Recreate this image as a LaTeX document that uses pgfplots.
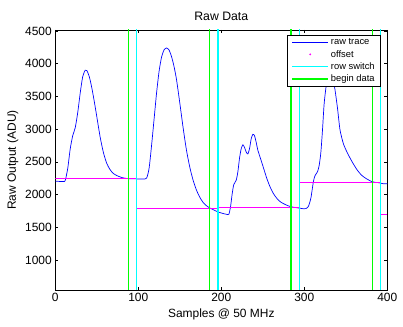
\documentclass[border=0pt]{standalone}
\usepackage{fontspec}
\setmainfont{Liberation Sans}
\usepackage{pgfplots}
\pgfplotsset{compat=1.18}
\definecolor{tblue}{rgb}{0,0,1}
\definecolor{tmag}{rgb}{1,0,1}
\definecolor{tcyan}{rgb}{0,1,1}
\definecolor{tgreen}{rgb}{0,1,0}
\pgfplotsset{
    legend image code/.code={\draw[#1] (0bp,0bp) -- (36bp,0bp);},
}

\begin{document}
\begin{tikzpicture}
\begin{axis}[
    at={(0,0)}, anchor=south west,
    scale only axis,
    width=332bp, height=260bp,
    xmin=0, xmax=400,
    ymin=540, ymax=4515,
    xtick={0,100,...,400},
    ytick={1000,1500,...,4500},
    tick align=inside,
    major tick length=3bp,
    minor tick num=0,
    axis line style={line width=0.6pt},
    every tick/.style={black, line width=0.5pt},
    /pgf/number format/assume math mode=true,
    /pgf/number format/1000 sep={},
    tick label style={font=\fontsize{12}{14}\selectfont},
    label style={font=\fontsize{12}{14}\selectfont},
    title style={font=\fontsize{12.3}{14}\selectfont},
    title={Raw Data},
    xlabel={Samples @ 50 MHz},
    ylabel={Raw Output (ADU)},
    unbounded coords=jump,
    legend style={at={(0.981,0.981)}, anchor=north east,
        font=\fontsize{9.4}{10}\selectfont, draw=black, line width=0.6pt,
        cells={anchor=west}, inner xsep=4bp, inner ysep=1.5bp},
]
% raw trace
\addplot[tblue, line width=0.7pt, smooth, tension=0.4] coordinates {
(0,2205) (5,2200) (10,2200) (12,2215) (15,2400) (18,2700) (21,2900) (24,3020)
(27,3250) (30,3550) (33,3800) (36,3900) (38,3895) (41,3800) (44,3630) (47,3420)
(50,3190) (54,2880) (58,2640) (62,2475) (66,2380) (70,2320) (74,2290) (80,2260)
(86,2245) (92,2240) (100,2238) (106,2238) (110,2250) (113,2400) (116,2750)
(119,3150) (122,3550) (125,3880) (128,4100) (131,4210) (134,4240) (137,4210)
(140,4110) (143,3960) (146,3760) (150,3400) (154,3020) (158,2680) (162,2420)
(166,2220) (170,2070) (174,1960) (178,1880) (182,1830) (186,1795) (190,1770)
(194,1745) (198,1725) (202,1710) (206,1698) (209,1697) (211,1800) (213,2000)
(215,2150) (218,2220) (220,2350) (222,2560) (224,2700) (226,2760) (228,2720)
(230,2650) (232,2620) (234,2700) (236,2850) (238,2920) (240,2900) (242,2800)
(244,2680) (247,2560) (251,2400) (255,2240) (259,2110) (263,2010) (267,1940)
(271,1890) (275,1860) (280,1830) (285,1810) (290,1800) (295,1790) (299,1782)
(302,1785) (305,1820) (308,1950) (311,2200) (313,2290) (316,2350) (318,2450)
(320,2650) (322,3000) (324,3400) (327,3720) (330,3880) (332,3900) (334,3820)
(337,3600) (340,3320) (343,2990) (347,2780) (351,2660) (355,2560) (359,2470)
(364,2370) (369,2295) (375,2240) (381,2200) (386,2185) (390,2180) (395,2165)
(400,2165)
};
\addlegendentry{raw trace}
\addlegendimage{legend image code/.code={\fill[tmag] (18bp,0bp) circle (0.6bp);}}
\addlegendentry{offset}
% offset
\addplot[tmag, line width=0.9pt, forget plot] coordinates {
(0,2245) (98,2245) (98,nan)
(98,1783) (196,1783) (196,nan)
(196,1800) (294,1800) (294,nan)
(294,2183) (392,2183) (392,nan)
(392,1690) (400,1690)
};
% row switch
\addplot[tcyan, line width=1.5bp] coordinates {
(98,0) (98,5000) (98,nan)
(196,0) (196,5000) (196,nan)
(294,0) (294,5000) (294,nan)
(392,0) (392,5000)
};
\addlegendentry{row switch}
% begin data
\addplot[tgreen, line width=1.5bp] coordinates {
(88,0) (88,5000) (88,nan)
(186,0) (186,5000) (186,nan)
(284,0) (284,5000) (284,nan)
(382,0) (382,5000)
};
\addlegendentry{begin data}
\end{axis}
\pgfresetboundingbox
\path (-55.3bp,-37bp) rectangle (347.7bp,290bp);
\end{tikzpicture}
\end{document}
